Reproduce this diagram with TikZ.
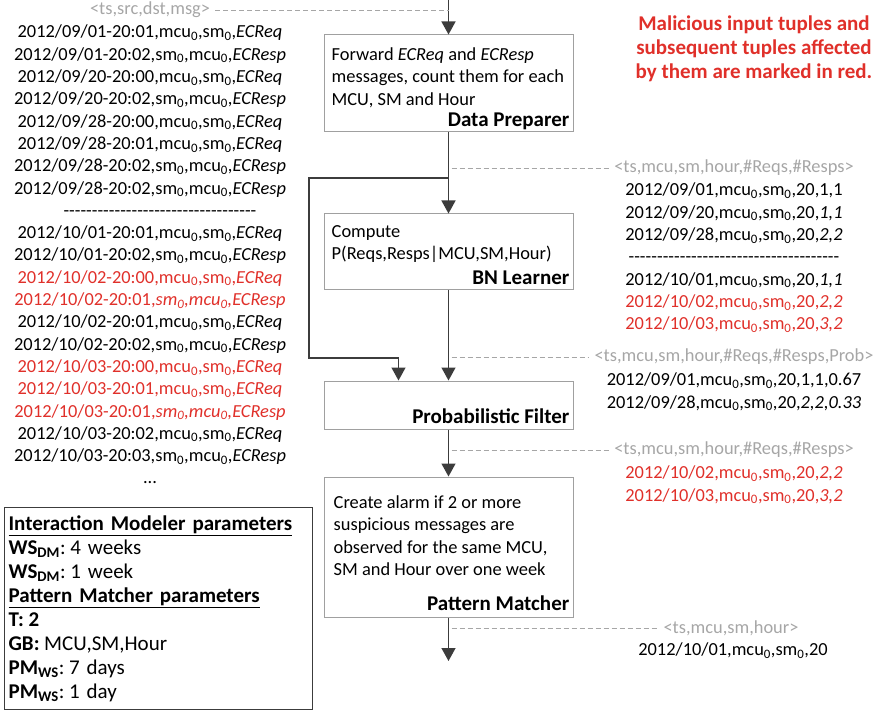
\documentclass[tikz,border=0pt]{standalone}
\usepackage{fontspec}
\setmainfont{Carlito}
\usetikzlibrary{ arrows.meta, % For the filled arrow heads
                 positioning, % For easy node-relative placements
               }
\definecolor{tuplered}{HTML}{E0302A}
\definecolor{schemagray}{HTML}{A6A6A6}
\definecolor{boxgray}{HTML}{A0A0A0}
\definecolor{flowgray}{HTML}{3C3C3C}

\tikzstyle{stage} = [rectangle, draw=boxgray, line width=1pt, minimum width=249pt, inner sep=0pt]
\tikzstyle{desc} = [inner sep=0pt, align=left]
\tikzstyle{stagename} = [inner sep=0pt, text depth=0pt, font=\fontsize{21}{24}\selectfont\bfseries]
\tikzstyle{flow} = [-{Triangle[width=14pt,length=13pt]}, draw=flowgray, line width=1.4pt]
\tikzstyle{tap} = [draw=schemagray, dash pattern=on 5pt off 3pt, line width=0.9pt]
\tikzstyle{schema} = [text=schemagray, inner sep=0pt]
\tikzstyle{tuples} = [align=center, inner sep=0pt, anchor=north]
\tikzstyle{parambox} = [draw=flowgray, line width=1.2pt, anchor=north west, align=left,
                        text width=300pt, minimum height=202pt, inner sep=4pt,
                        font=\fontsize{21}{24}\selectfont\frenchspacing]

\newcommand{\mcuo}{mcu\textsubscript{0}}
\newcommand{\smo}{sm\textsubscript{0}}
\newcommand{\bad}[1]{\textcolor{tuplered}{#1}}
\newcommand{\hyphenrow}[1]{\hbox to #1{\xleaders\hbox{-}\hfill}}
\newcommand{\param}[2]{\textbf{#1}:\hspace{0.22em}#2} % name: value, tight after the colon

\begin{document}
\begin{tikzpicture}[x=1pt, y=-1pt, font=\fontsize{18.4}{22.3}\selectfont]
  \useasboundingbox (0,0) rectangle (884,714);

  % the four stages of the pipeline
  \node (dp) [stage, minimum height=97pt] at (448.5, 83.5) {};
  \node (bn) [stage, minimum height=76pt] at (448.5, 252) {};
  \node (pf) [stage, minimum height=48pt] at (448.5, 405) {};
  \node (pm) [stage, minimum height=140pt] at (448.5, 547) {};

  \node (dp_text) [desc, below right=13pt and 8pt of dp.north west]
    {Forward \textit{ECReq} and \textit{ECResp}\\messages, count them for each\\MCU, SM and Hour};
  \node (dp_name) [stagename, above left=6pt and 4pt of dp.south east] {Data Preparer};

  \node (bn_text) [desc, below right=12pt and 8pt of bn.north west]
    {Compute\\P(Reqs,Resps|MCU,SM,Hour)};
  \node (bn_name) [stagename, above left=6pt and 4pt of bn.south east] {BN Learner};

  \node (pf_name) [stagename, above left=6pt and 4pt of pf.south east] {Probabilistic Filter};

  \node (pm_text) [desc, below right=19pt and 10pt of pm.north west]
    {Create alarm if 2 or more\\suspicious messages are\\observed for the same MCU,\\SM and Hour over one week};
  \node (pm_name) [stagename, above left=7pt and 4pt of pm.south east] {Pattern Matcher};

  % main flow
  \coordinate (feed) at (448.5, 0);
  \coordinate (sink) at (448.5, 661);
  \coordinate (split) at (448.5, 178);
  \coordinate (detour) at (309, 358);
  \draw[flow] (feed) -- (dp.north);
  \draw[flow] (dp.south) -- (bn.north);
  \draw[flow] (bn.south) -- (pf.north);
  \draw[flow] (pf.south) -- (pm.north);
  \draw[flow] (pm.south) -- (sink);
  \draw[flow] (split) -| (detour) -| ([xshift=-50pt]pf.north); % counts go straight to the filter too

  % input stream
  \node (in_hdr) [schema] at (150, 10) {<ts,src,dst,msg>};
  \node (in_list) [tuples] at (150, 25) {
    2012/09/01-20:01,\mcuo,\smo,\textit{ECReq}\\
    2012/09/01-20:02,\smo,\mcuo,\textit{ECResp}\\
    2012/09/20-20:00,\mcuo,\smo,\textit{ECReq}\\
    2012/09/20-20:02,\smo,\mcuo,\textit{ECResp}\\
    2012/09/28-20:00,\mcuo,\smo,\textit{ECReq}\\
    2012/09/28-20:01,\mcuo,\smo,\textit{ECReq}\\
    2012/09/28-20:02,\smo,\mcuo,\textit{ECResp}\\
    2012/09/28-20:02,\smo,\mcuo,\textit{ECResp}\\
    \hspace*{20pt}\hyphenrow{193pt}\\
    2012/10/01-20:01,\mcuo,\smo,\textit{ECReq}\\
    2012/10/01-20:02,\smo,\mcuo,\textit{ECResp}\\
    \bad{2012/10/02-20:00,\mcuo,\smo,\textit{ECReq}}\\
    \bad{2012/10/02-20:01,\textit{\smo,\mcuo,ECResp}}\\
    2012/10/02-20:01,\mcuo,\smo,\textit{ECReq}\\
    2012/10/02-20:02,\smo,\mcuo,\textit{ECResp}\\
    \bad{2012/10/03-20:00,\mcuo,\smo,\textit{ECReq}}\\
    \bad{2012/10/03-20:01,\mcuo,\smo,\textit{ECReq}}\\
    \bad{2012/10/03-20:01,\textit{\smo,\mcuo,ECResp}}\\
    2012/10/03-20:02,\mcuo,\smo,\textit{ECReq}\\
    2012/10/03-20:03,\smo,\mcuo,\textit{ECResp}\\
    ...};
  \draw[tap] ([xshift=5pt]in_hdr.east) -- (in_hdr -| feed);

  % Data Preparer output
  \node (dp_hdr) [schema] at (734, 168) {<ts,mcu,sm,hour,\#Reqs,\#Resps>};
  \node (dp_list) [tuples] at (734, 183) {
    2012/09/01,\mcuo,\smo,20,1,1\\
    2012/09/20,\mcuo,\smo,20,\textit{1,1}\\
    2012/09/28,\mcuo,\smo,20,\textit{2,2}\\
    \hyphenrow{211pt}\\
    2012/10/01,\mcuo,\smo,20,\textit{1,1}\\
    \bad{2012/10/02,\mcuo,\smo,20,\textit{2,2}}\\
    \bad{2012/10/03,\mcuo,\smo,20,\textit{3,2}}};
  \draw[tap] ([xshift=3pt]dp_hdr -| dp.south) -- ([xshift=-5pt]dp_hdr.west);

  % BN Learner output
  \node (bn_hdr) [schema] at (734, 357) {<ts,mcu,sm,hour,\#Reqs,\#Resps,Prob>};
  \node (bn_list) [tuples] at (734, 373) {
    2012/09/01,\mcuo,\smo,20,1,1,0.67\\
    2012/09/28,\mcuo,\smo,20,\textit{2,2,0.33}};
  \draw[tap] ([xshift=3pt]bn_hdr -| bn.south) -- ([xshift=-5pt]bn_hdr.west);

  % Probabilistic Filter output
  \node (pf_hdr) [schema] at (734, 450) {<ts,mcu,sm,hour,\#Reqs,\#Resps>};
  \node (pf_list) [tuples] at (734, 466) {
    \bad{2012/10/02,\mcuo,\smo,20,\textit{2,2}}\\
    \bad{2012/10/03,\mcuo,\smo,20,\textit{3,2}}};
  \draw[tap] ([xshift=3pt]pf_hdr -| pf.south) -- ([xshift=-5pt]pf_hdr.west);

  % alarms
  \node (pm_hdr) [schema] at (731, 628) {<ts,mcu,sm,hour>};
  \node (pm_list) [tuples] at (733, 643) {2012/10/01,\mcuo,\smo,20};
  \draw[tap] ([xshift=3pt]pm_hdr -| pm.south) -- ([xshift=-5pt]pm_hdr.west);

  \node (note) [align=center, text=tuplered, font=\fontsize{21}{24}\selectfont\bfseries] at (754, 49)
    {Malicious input tuples and\\subsequent tuples affected\\by them are marked in red.};

  \node (params) [parambox] at (4, 507) {
    \underline{\textbf{Interaction Modeler parameters}}\\
    \param{WS\textsubscript{DM}}{4 weeks}\\
    \param{WS\textsubscript{DM}}{1 week}\\
    \underline{\textbf{Pattern Matcher parameters}}\\
    \textbf{T:\hspace{0.22em}2}\\
    \textbf{GB:}\hspace{0.22em}MCU,SM,Hour\\
    \param{PM\textsubscript{WS}}{7 days}\\
    \param{PM\textsubscript{WS}}{1 day}};

\end{tikzpicture}
\end{document}
